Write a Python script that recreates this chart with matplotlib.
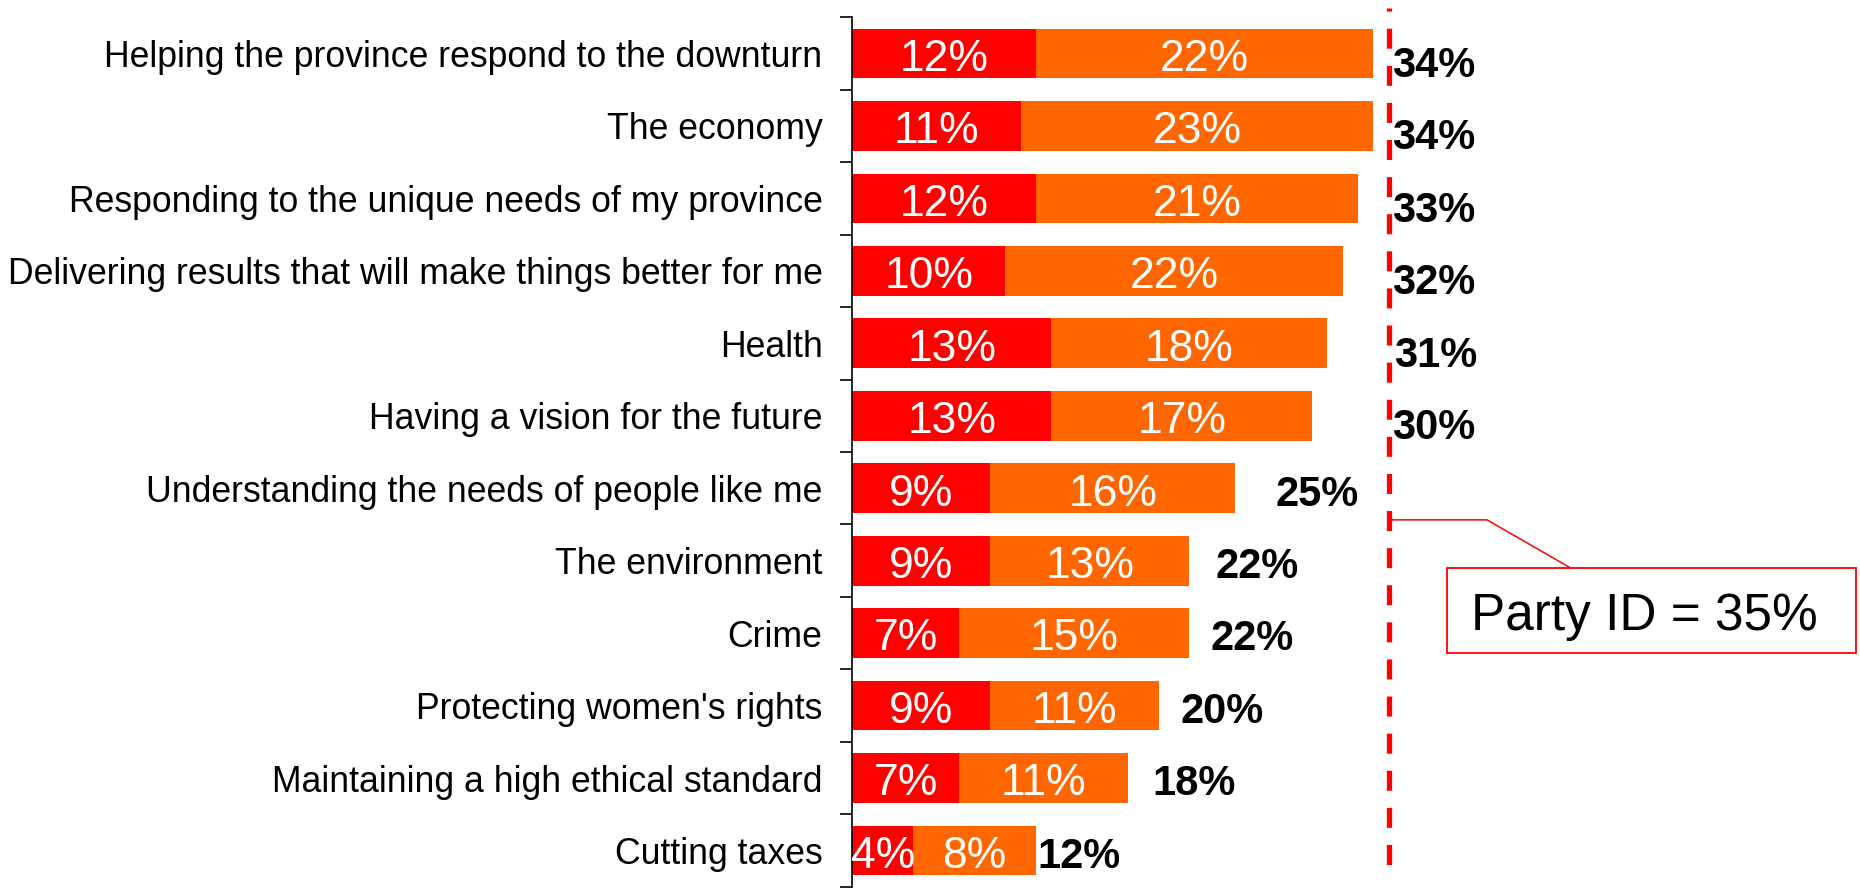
import matplotlib
matplotlib.use("Agg")
import matplotlib.pyplot as plt
import numpy as np
from matplotlib.patches import Rectangle

plt.rcParams['font.family'] = ['Liberation Sans', 'DejaVu Sans']

categories = [
    "Helping the province respond to the downturn",
    "The economy",
    "Responding to the unique needs of my province",
    "Delivering results that will make things better for me",
    "Health",
    "Having a vision for the future",
    "Understanding the needs of people like me",
    "The environment",
    "Crime",
    "Protecting women's rights",
    "Maintaining a high ethical standard",
    "Cutting taxes",
]
first = [12, 11, 12, 10, 13, 13, 9, 9, 7, 9, 7, 4]
second = [22, 23, 21, 22, 18, 17, 16, 13, 15, 11, 11, 8]
totals = [34, 34, 33, 32, 31, 30, 25, 22, 22, 20, 18, 12]
party_id = 35

# where the bold totals sit (gap after bar, in % units) and baseline drop (pt)
label_gap = [1.2, 1.2, 2.2, 3.2, 4.35, 5.2, 2.6, 1.7, 1.4, 1.4, 1.6, 0.1]
label_drop = [16.8] * 6 + [12.5] * 6

red = "#ff0000"
orange = "#ff6600"

fig = plt.figure(figsize=(18.6, 8.9), dpi=100)
ax = fig.add_axes([0.4581, 0.0037, 0.5419, 0.9769])

y = np.arange(len(categories))
ax.barh(y, first, height=0.686, color=red)
ax.barh(y, second, left=first, height=0.686, color=orange)

for i in range(len(categories)):
    ax.annotate(f"{first[i]}%", (first[i] / 2, y[i]), xytext=(0, -12.5),
                textcoords="offset points", color="white", fontsize=32,
                ha="center", va="baseline")
    ax.annotate(f"{second[i]}%", (first[i] + second[i] / 2, y[i]),
                xytext=(0, -12.5), textcoords="offset points", color="white",
                fontsize=32, ha="center", va="baseline")
    ax.annotate(f"{totals[i]}%", (totals[i] + label_gap[i], y[i]),
                xytext=(0, -label_drop[i]), textcoords="offset points",
                fontsize=30, fontweight="bold", ha="left", va="baseline")

# party id reference line
ax.plot([party_id, party_id], [-0.628, 11.27], color=red, lw=3.8,
        linestyle=(3.2, (3.79, 3.24)), dash_capstyle="butt", clip_on=False)

# callout
ax.plot([party_id, 41.42, 46.84], [6.437, 6.437, 7.097], color=red, lw=1.1,
        clip_on=False)
ax.add_patch(Rectangle((38.79, 7.097), 26.7, 1.173, fill=False,
                       edgecolor=red, lw=1.3, clip_on=False))
ax.text(51.7, 7.957, f"Party ID = {party_id}%", fontsize=37, ha="center",
        va="baseline")

ax.set_xlim(0, 65.75)
ax.set_ylim(11.5, -0.5)
ax.set_xticks([])
ax.set_yticks(y)
ax.set_yticklabels(categories)
ax.set_yticks(np.arange(-0.5, len(categories), 1), minor=True)
ax.tick_params(axis="y", which="major", length=0, pad=21.2, labelsize=25.7)
ax.tick_params(axis="y", which="minor", length=8.4, width=1.2, direction="out")
for s in ["top", "right", "bottom"]:
    ax.spines[s].set_visible(False)
ax.spines["left"].set_linewidth(1.2)

fig.savefig("out.png", dpi=100)
